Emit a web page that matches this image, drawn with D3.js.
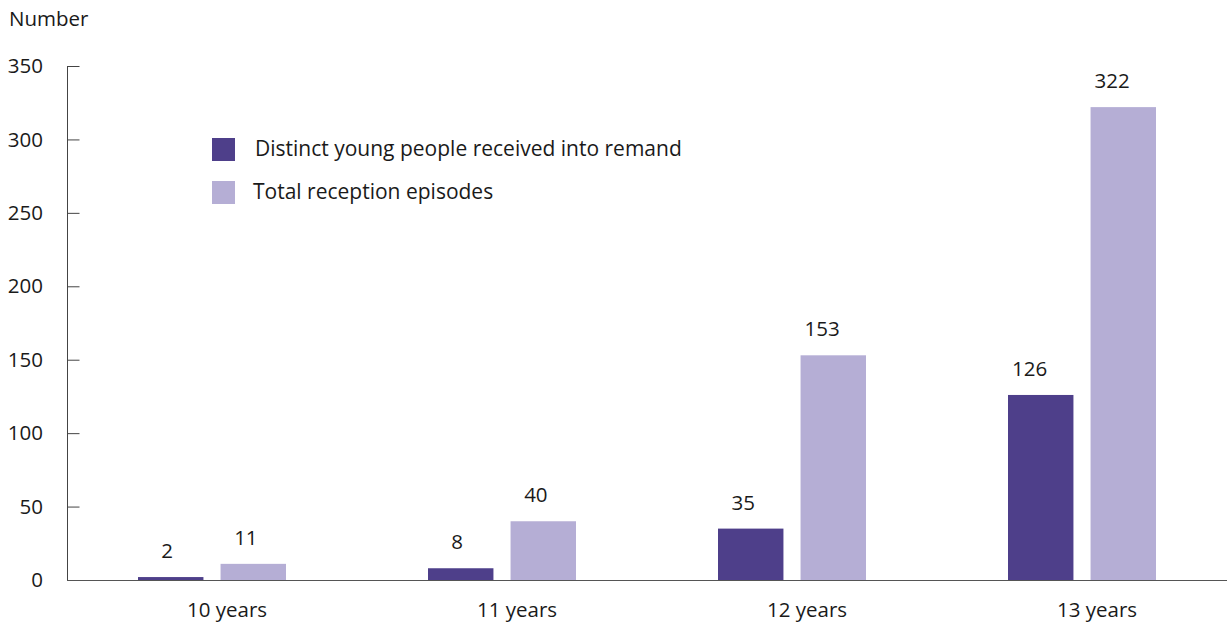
<!DOCTYPE html>
<html>
<head>
<meta charset="utf-8">
<script src="https://cdn.jsdelivr.net/npm/d3@7"></script>
<style>
  body { margin: 0; background: #fff; }
  svg { display: block; font-family: "Open Sans", "Noto Sans", sans-serif; }
</style>
</head>
<body>
<svg id="chart" width="1227" height="628"></svg>
<script>
const categories = ["10 years", "11 years", "12 years", "13 years"];
const seriesNames = ["Distinct young people received into remand", "Total reception episodes"];
const distinctYoungPeople = [2, 8, 35, 126];
const totalReceptionEpisodes = [11, 40, 153, 322];
const yTicks = [0, 50, 100, 150, 200, 250, 300, 350];
const colors = ["#4e3f8a", "#b5aed5"];

(function () {
const svg = d3.select("#chart");
const mLeft = 67, mRight = 1227, mTop = 66, mBottom = 580;
const fs = 20.5;

const x = d3.scaleBand().domain(categories).range([mLeft, mRight]).padding(0);
const inner = d3.scaleBand().domain([0, 1]).range([0, 148]).paddingInner(17 / 82).paddingOuter(0);
const groupOffset = (x.bandwidth() - 148) / 2;
const y = d3.scaleLinear().domain([0, 350]).range([mBottom, mTop]);

// y axis
const yAxis = d3.axisRight(y).tickValues(yTicks).tickSize(12).tickFormat("");
const gy = svg.append("g").attr("transform", `translate(${mLeft + 0.5},0)`).call(yAxis);
gy.select(".domain").attr("stroke", "#444").attr("d", `M0,${mTop}V${mBottom}`);
gy.selectAll(".tick line").attr("stroke", "#444");

svg.append("g").selectAll("text").data(yTicks).join("text")
  .attr("x", 43).attr("y", d => y(d)).attr("dy", "0.35em")
  .attr("text-anchor", "end").attr("font-size", fs).attr("fill", "#1a1a1a")
  .text(d => d);

svg.append("text").attr("x", 9).attr("y", 26).attr("font-size", fs).attr("fill", "#1a1a1a").text("Number");

// bars
const rows = categories.map((c, i) => ({ c, vals: [distinctYoungPeople[i], totalReceptionEpisodes[i]] }));
const g = svg.append("g").selectAll("g").data(rows).join("g")
  .attr("transform", d => `translate(${x(d.c) + groupOffset},0)`);
g.selectAll("rect").data(d => d.vals.map((v, k) => ({ v, k }))).join("rect")
  .attr("x", d => inner(d.k)).attr("width", inner.bandwidth())
  .attr("y", d => y(d.v)).attr("height", d => y(0) - y(d.v))
  .attr("fill", d => colors[d.k]);
g.selectAll("text").data(d => d.vals.map((v, k) => ({ v, k }))).join("text")
  .attr("x", d => inner(d.k) + inner.bandwidth() / 2 - 3.7 * String(d.v).length)
  .attr("y", d => y(d.v) - 19)
  .attr("text-anchor", "middle").attr("font-size", fs).attr("fill", "#1a1a1a")
  .text(d => d.v);

// baseline
svg.append("line").attr("x1", mLeft).attr("x2", mRight).attr("y1", mBottom + 0.5).attr("y2", mBottom + 0.5)
  .attr("stroke", "#555").attr("stroke-width", 1);

// x labels
svg.append("g").selectAll("text").data(categories).join("text")
  .attr("x", d => x(d) + x.bandwidth() / 2 + 15).attr("y", 617)
  .attr("text-anchor", "middle").attr("font-size", fs).attr("fill", "#1a1a1a")
  .text(d => d);

// legend
const legend = svg.append("g").selectAll("g").data(seriesNames).join("g")
  .attr("transform", (d, i) => `translate(212,${138 + i * 43})`);
legend.append("rect").attr("width", 23).attr("height", 23).attr("fill", (d, i) => colors[i]);
legend.append("text").attr("x", (d, i) => i === 0 ? 43 : 41).attr("y", 11).attr("dy", "0.35em")
  .attr("font-size", 21).attr("fill", "#1a1a1a").text(d => d);
})();
</script>
</body>
</html>
